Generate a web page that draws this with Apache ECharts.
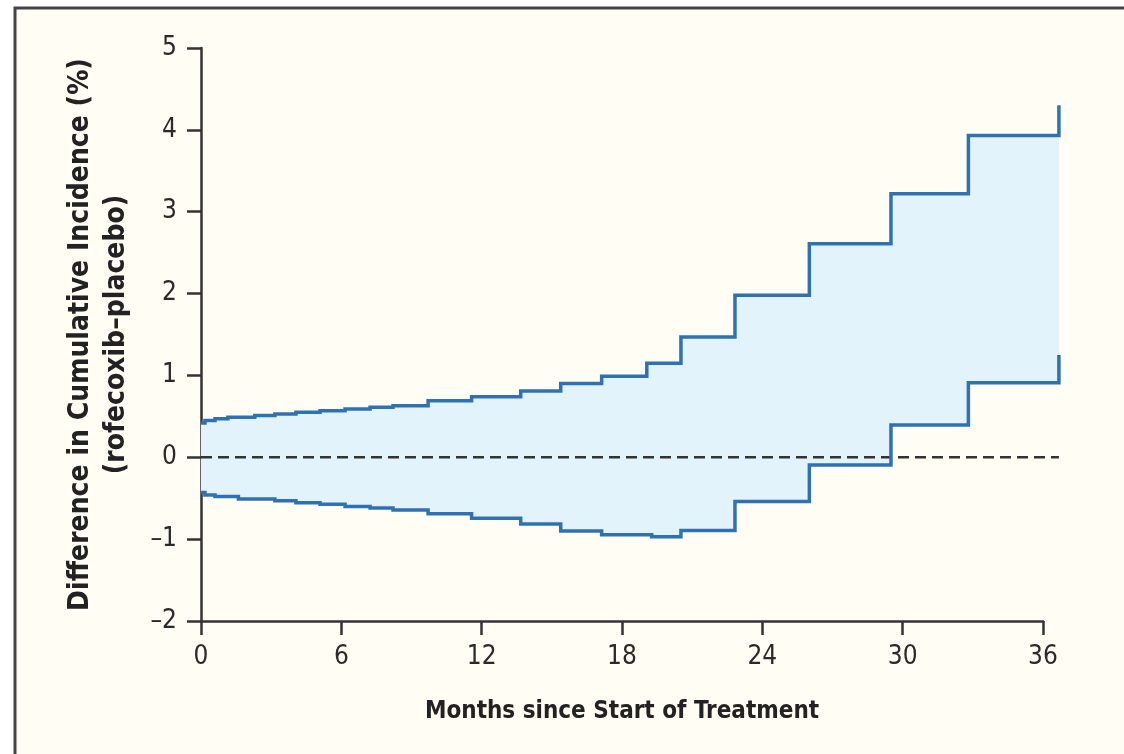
<!DOCTYPE html>
<html>
<head>
<meta charset="utf-8">
<script src="https://cdn.jsdelivr.net/npm/echarts@6/dist/echarts.min.js"></script>
<style>
html,body{margin:0;padding:0;background:#ffffff;}
#chart{width:1124px;height:754px;}
</style>
</head>
<body>
<div id="chart"></div>
<script>
// Step change points: months since start of treatment
var upperMonths = [0, 0.17, 0.6, 1.15, 2.3, 3.16, 4.06, 5.09, 6.16, 7.23, 8.21, 9.71, 11.57, 13.67, 15.38, 17.13, 19.06, 20.52, 22.83, 26.01, 29.5, 32.81, 36.68];
var upperValues = [0.42, 0.45, 0.47, 0.49, 0.51, 0.53, 0.55, 0.57, 0.59, 0.61, 0.63, 0.69, 0.74, 0.81, 0.90, 0.99, 1.15, 1.47, 1.98, 2.61, 3.22, 3.93, 4.30];
var lowerMonths = [0, 0.17, 0.6, 1.6, 3.16, 4.06, 5.09, 6.16, 7.23, 8.21, 9.71, 11.57, 13.67, 15.38, 17.13, 19.27, 20.52, 22.83, 26.01, 29.5, 32.81, 36.68];
var lowerValues = [-0.43, -0.46, -0.48, -0.51, -0.53, -0.555, -0.575, -0.60, -0.62, -0.645, -0.69, -0.745, -0.815, -0.90, -0.945, -0.97, -0.895, -0.54, -0.094, 0.395, 0.91, 1.25];
var zeroLineMonths = [0, 36.68];
var zeroLineValues = [0, 0];
var xTicks = [0, 6, 12, 18, 24, 30, 36];
var yTickLabels = {'-2':'\u20132','-1':'\u20131','0':'0','1':'1','2':'2','3':'3','4':'4','5':'5'};

var xTitle = 'Months since Start of Treatment';
var yTitle = 'Difference in Cumulative Incidence (%)\n(rofecoxib\u2013placebo)';

function stepPts(xs, ys){
  var pts = [];
  for (var i = 0; i < xs.length; i++){
    if (i > 0) pts.push([xs[i], ys[i-1]]);
    pts.push([xs[i], ys[i]]);
  }
  return pts;
}

var FONT = "'Liberation Sans Narrow','DejaVu Sans Condensed','Liberation Sans',sans-serif";
var lineColor = '#2f72b4';
var axisColor = '#333333';

function polySeries(xs, ys, style, z, step){
  return {
    type: 'custom', z: z, silent: true, clip: false,
    data: [[0, 0]],
    renderItem: function(params, api){
      var raw = step ? stepPts(xs, ys) : xs.map(function(x, i){ return [x, ys[i]]; });
      var pts = raw.map(function(p){ return api.coord(p); });
      return {type: 'polyline', shape: {points: pts}, style: style};
    }
  };
}

var chart = echarts.init(document.getElementById('chart'));
chart.setOption({
  backgroundColor: 'transparent',
  animation: false,
  graphic: [{
    type: 'rect', z: -10, silent: true,
    shape: {x: 15, y: 8, width: 1300, height: 900},
    style: {fill: '#fffdf4', stroke: '#444444', lineWidth: 3}
  }],
  grid: {left: 201, right: 81, top: 48, bottom: 133, containLabel: false},
  xAxis: {
    type: 'value', min: 0, max: 36, interval: 6,
    name: xTitle, nameLocation: 'middle', nameGap: 79,
    nameTextStyle: {fontFamily: FONT, fontWeight: 'bold', fontSize: 24, color: '#222'},
    axisLine: {show: true, onZero: false, lineStyle: {color: axisColor, width: 2.5}},
    axisTick: {show: true, length: 14, lineStyle: {color: axisColor, width: 2.5}},
    axisLabel: {fontFamily: FONT, fontSize: 26, color: '#2a2a2a', margin: 23,
      formatter: function(v){ return xTicks.indexOf(v) >= 0 ? String(v) : ''; }},
    splitLine: {show: false}
  },
  yAxis: {
    type: 'value', min: -2, max: 5, interval: 1,
    name: yTitle, nameLocation: 'middle', nameGap: 66, nameRotate: 90,
    nameTextStyle: {fontFamily: FONT, fontWeight: 'bold', fontSize: 28, color: '#222', lineHeight: 36, align: 'center'},
    axisLine: {show: true, lineStyle: {color: axisColor, width: 2.5}},
    axisTick: {show: true, length: 14, lineStyle: {color: axisColor, width: 2.5}},
    axisLabel: {fontFamily: FONT, fontSize: 26, color: '#2a2a2a', margin: 24,
      formatter: function(v){ return yTickLabels[String(v)] || ''; }},
    splitLine: {show: false}
  },
  series: [
    {
      type: 'custom', z: 1, silent: true, clip: false,
      data: [[0, 0]],
      renderItem: function(params, api){
        var up = stepPts(upperMonths, upperValues);
        var lo = stepPts(lowerMonths, lowerValues).reverse();
        var pts = up.concat(lo).map(function(p){ return api.coord(p); });
        return {type: 'polygon', shape: {points: pts}, style: {fill: '#e3f3fc', stroke: null}};
      }
    },
    polySeries(zeroLineMonths, zeroLineValues, {fill: null, stroke: '#333333', lineWidth: 2.5, lineDash: [11, 6]}, 3, false),
    polySeries(upperMonths, upperValues, {fill: null, stroke: lineColor, lineWidth: 3.5}, 4, true),
    polySeries(lowerMonths, lowerValues, {fill: null, stroke: lineColor, lineWidth: 3.5}, 4, true)
  ]
});
</script>
</body>
</html>
